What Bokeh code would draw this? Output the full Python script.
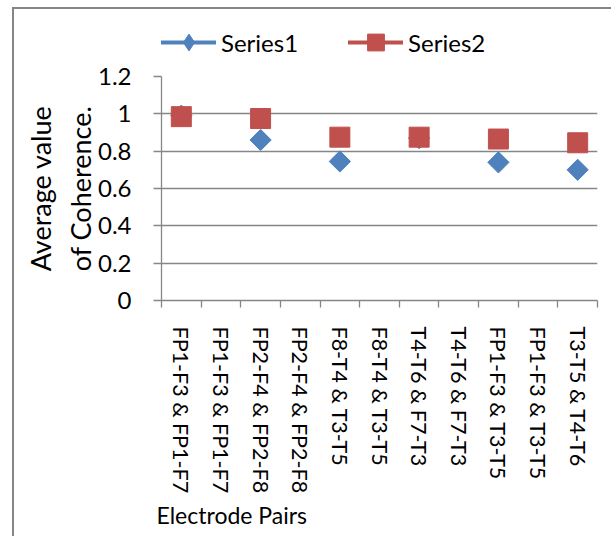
import numpy as np
from bokeh.plotting import figure
from bokeh.layouts import column
from bokeh.models import FixedTicker, Legend, LegendItem, Title, ColumnDataSource
from bokeh.embed import file_html
from bokeh.resources import INLINE

categories = ["FP1-F3 & FP1-F7", "FP1-F3 & FP1-F7", "FP2-F4 & FP2-F8", "FP2-F4 & FP2-F8",
              "F8-T4 & T3-T5", "F8-T4 & T3-T5", "T4-T6 & F7-T3", "T4-T6 & F7-T3",
              "FP1-F3 & T3-T5", "FP1-F3 & T3-T5", "T3-T5 & T4-T6"]
series1 = [0.99, None, 0.86, None, 0.745, None, 0.87, None, 0.74, None, 0.70]
series2 = [0.985, None, 0.975, None, 0.875, None, 0.875, None, 0.865, None, 0.845]
series_names = ["Series1", "Series2"]
y_ticks = [0, 0.2, 0.4, 0.6, 0.8, 1.0, 1.2]
y_tick_labels = ["0", "0.2", "0.4", "0.6", "0.8", "1", "1.2"]

BLUE = "#4F81BD"
RED = "#C0504D"
GRAY = "#868686"
FONT = "Lato"

n = len(categories)
xs = np.arange(n) + 0.5
s1 = np.array([np.nan if v is None else v for v in series1], dtype=float)
s2 = np.array([np.nan if v is None else v for v in series2], dtype=float)
src = ColumnDataSource(dict(x=xs, s1=s1, s2=s2))

# ---------------- main chart ----------------
p = figure(width=597, height=475, x_range=(0, n), y_range=(0, 1.2),
           output_backend="svg", toolbar_location=None,
           min_border_left=147, min_border_right=14, min_border_top=15, min_border_bottom=236)
p.outline_line_color = None
p.background_fill_color = "white"
p.border_fill_color = "white"
p.xgrid.visible = False
p.ygrid.grid_line_color = GRAY
p.ygrid.grid_line_width = 1.3

ya = p.yaxis[0]
ya.ticker = FixedTicker(ticks=y_ticks)
ya.major_label_overrides = {t: l for t, l in zip(y_ticks, y_tick_labels)}
ya.axis_line_color = GRAY
ya.axis_line_width = 1.3
ya.major_tick_line_color = GRAY
ya.major_tick_line_width = 1.3
ya.major_tick_out = 8
ya.major_tick_in = 0
ya.minor_tick_line_color = None
ya.major_label_standoff = 22
ya.major_label_text_font = FONT
ya.major_label_text_font_size = "24px"
ya.major_label_text_color = "black"
ya.axis_label = "Average value\nof Coherence."
ya.axis_label_text_font = FONT
ya.axis_label_text_font_size = "27px"
ya.axis_label_text_font_style = "normal"
ya.axis_label_text_color = "black"
ya.axis_label_standoff = -2

xa = p.xaxis[0]
xa.ticker = FixedTicker(ticks=[float(v) for v in xs], minor_ticks=list(range(n + 1)))
xa.major_label_overrides = {float(v): c for v, c in zip(xs, categories)}
xa.major_label_orientation = "vertical"
xa.axis_line_color = GRAY
xa.axis_line_width = 1.3
xa.major_tick_out = 0
xa.major_tick_in = 0
xa.minor_tick_line_color = GRAY
xa.minor_tick_line_width = 1.3
xa.minor_tick_out = 7
xa.minor_tick_in = 0
xa.major_label_standoff = 19
xa.major_label_text_font = FONT
xa.major_label_text_font_size = "21.5px"
xa.major_label_text_color = "black"

p.add_layout(Title(text="Electrode Pairs", align="left", offset=-5, text_font=FONT,
                   text_font_size="23px", text_font_style="normal", text_color="black",
                   standoff=4), "below")

p.line("x", "s1", source=src, color=BLUE, line_width=4, line_cap="round")
p.scatter("x", "s1", source=src, marker="square", angle=np.pi / 4, size=15, color=BLUE)
p.line("x", "s2", source=src, color=RED, line_width=4, line_cap="round")
p.scatter("x", "s2", source=src, marker="square", size=20, color=RED)

# ---------------- legend strip ----------------
leg = figure(width=597, height=52, output_backend="svg", toolbar_location=None,
             x_axis_location=None, y_axis_location=None,
             min_border_left=0, min_border_right=0, min_border_top=0, min_border_bottom=0)
leg.outline_line_color = None
leg.grid.visible = False
leg.border_fill_color = "white"
l1 = leg.line("x", "s1", source=src, color=BLUE, line_width=4, line_cap="round", visible=False)
m1 = leg.scatter("x", "s1", source=src, marker="diamond", color=BLUE, visible=False)
l2 = leg.line("x", "s2", source=src, color=RED, line_width=4, line_cap="round", visible=False)
m2 = leg.scatter("x", "s2", source=src, marker="square", color=RED, visible=False)
legend = Legend(items=[LegendItem(label=series_names[0], renderers=[l1, m1]),
                       LegendItem(label=series_names[1], renderers=[l2, m2])],
                orientation="horizontal", location=(0, -2), padding=0, margin=0,
                spacing=50, glyph_width=55, glyph_height=42, label_standoff=5,
                label_text_font=FONT, label_text_font_size="24px", label_text_color="black",
                background_fill_alpha=0, border_line_color=None)
leg.add_layout(legend)

layout = column(leg, p, spacing=0)
layout.margin = (7, 0, 0, 12)
layout.styles = {"border-left": "2px solid #868686", "border-top": "2px solid #868686"}

open("out.html", "w").write(file_html(layout, INLINE))
